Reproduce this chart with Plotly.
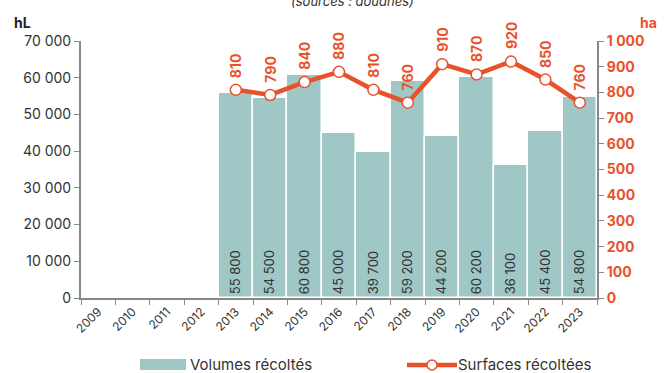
import plotly.graph_objects as go

# Harvest data by year
years = list(range(2009, 2024))
volumes_hl = [None, None, None, None, 55800, 54500, 60800, 45000, 39700,
              59200, 44200, 60200, 36100, 45400, 54800]
surfaces_ha = [None, None, None, None, 810, 790, 840, 880, 810,
               760, 910, 870, 920, 850, 760]

ORANGE = "#E8522B"
TEAL = "#9EC7C5"
FONT = "Inter"
W, H = 668, 373
ML, MR, MT, MB = 81, 71, 41, 75


def fmt(v):
    return f"{v:,}".replace(",", " ")


def px(xp):
    """Horizontal pixel -> paper coordinate."""
    return (xp - ML) / (W - ML - MR)


def py(yp):
    """Vertical pixel (from top) -> paper coordinate."""
    return (H - MB - yp) / (H - MT - MB)


fig = go.Figure()

fig.add_trace(go.Bar(
    x=years, y=volumes_hl, name="Volumes récoltés",
    marker=dict(color=TEAL, line=dict(color="white", width=1.5)),
    width=1.0,
    text=[fmt(v) if v is not None else "" for v in volumes_hl],
    textposition="inside", insidetextanchor="start", textangle=-90,
    textfont=dict(family=FONT, size=13, color="#333333"),
    showlegend=False,
))

fig.add_trace(go.Scatter(
    x=years, y=surfaces_ha, name="Surfaces récoltées", yaxis="y2",
    mode="lines+markers",
    line=dict(color=ORANGE, width=4.5),
    marker=dict(size=11, color="white", line=dict(color=ORANGE, width=1.5)),
    cliponaxis=False, showlegend=False,
))

# Rotated value labels above the line markers
for yr, v in zip(years, surfaces_ha):
    if v is None:
        continue
    fig.add_annotation(
        x=yr, y=v, xref="x", yref="y2", text=f"<b>{v}</b>", textangle=-90,
        showarrow=False, yanchor="bottom", xanchor="center", yshift=10,
        font=dict(family=FONT, size=14, color=ORANGE),
    )

# Axis unit labels and source note
fig.add_annotation(xref="paper", yref="paper", x=px(12), y=py(12),
                   text="<b>hL</b>", showarrow=False, xanchor="left",
                   yanchor="top",
                   font=dict(family=FONT, size=14, color="#222222"))
fig.add_annotation(xref="paper", yref="paper", x=px(638), y=py(12),
                   text="<b>ha</b>", showarrow=False, xanchor="left",
                   yanchor="top",
                   font=dict(family=FONT, size=14, color=ORANGE))
fig.add_annotation(xref="paper", yref="paper", x=px(352), y=py(1),
                   text="<i>(sources : douanes)</i>", showarrow=False,
                   xanchor="center", yanchor="middle",
                   font=dict(family=FONT, size=13, color="#333333"))

# Legend drawn as shapes + text
legend_y = 364
fig.add_shape(type="rect", xref="paper", yref="paper",
              x0=px(140), x1=px(186), y0=py(359), y1=py(370),
              fillcolor=TEAL, line=dict(width=0))
fig.add_annotation(xref="paper", yref="paper", x=px(189), y=py(legend_y),
                   text="Volumes récoltés", showarrow=False,
                   xanchor="left", yanchor="middle", borderpad=0,
                   font=dict(family=FONT, size=15, color="#333333"))
fig.add_shape(type="line", xref="paper", yref="paper",
              x0=px(407), x1=px(457), y0=py(legend_y + 1),
              y1=py(legend_y + 1),
              line=dict(color=ORANGE, width=4.5))
fig.add_shape(type="circle", xref="paper", yref="paper",
              x0=px(427), x1=px(437), y0=py(legend_y - 4),
              y1=py(legend_y + 6),
              fillcolor="white", line=dict(color=ORANGE, width=1.5))
fig.add_annotation(xref="paper", yref="paper", x=px(457), y=py(legend_y),
                   text="Surfaces récoltées", showarrow=False,
                   xanchor="left", yanchor="middle", borderpad=0,
                   font=dict(family=FONT, size=15, color="#333333"))

fig.update_layout(
    width=W, height=H,
    margin=dict(l=ML, r=MR, t=MT, b=MB, autoexpand=False),
    paper_bgcolor="white", plot_bgcolor="white",
    separators=", ",
    font=dict(family=FONT, color="#333333"),
    bargap=0,
    showlegend=False,
    xaxis=dict(
        type="linear", range=[years[0] - 0.5, years[-1] + 0.5],
        tickmode="array", tickvals=years, ticktext=[str(y) for y in years],
        tickangle=-45, ticks="",
        minor=dict(ticks="outside", ticklen=5, tickcolor="#888888",
                   tickmode="linear", tick0=years[0] - 0.5, dtick=1),
        showline=True, linecolor="#888888", linewidth=2,
        showgrid=False, zeroline=False, automargin=False,
        tickfont=dict(family=FONT, size=12, color="#333333"),
    ),
    yaxis=dict(
        range=[0, 70000], dtick=10000, separatethousands=True,
        exponentformat="none", automargin=False,
        ticks="outside", ticklen=5, tickcolor="#888888",
        showline=True, linecolor="#888888", linewidth=2,
        showgrid=False, zeroline=False,
        tickfont=dict(family=FONT, size=14, color="#333333"),
    ),
    yaxis2=dict(
        range=[0, 1000], dtick=100, separatethousands=True,
        exponentformat="none", automargin=False,
        overlaying="y", side="right",
        ticks="outside", ticklen=5, tickcolor="#888888",
        showline=True, linecolor="#888888", linewidth=2,
        showgrid=False, zeroline=False,
        tickfont=dict(family=FONT, size=14, color=ORANGE, weight="bold"),
    ),
)

fig.write_html("out.html")
